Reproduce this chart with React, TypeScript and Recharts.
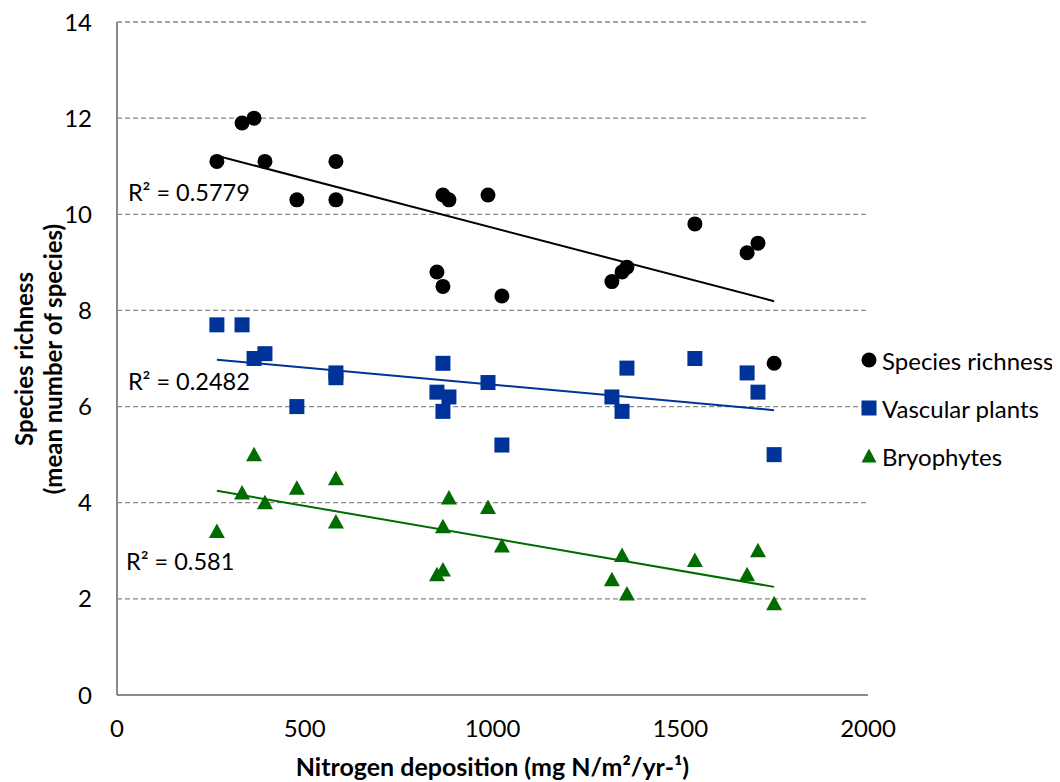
import React from 'react';
import {
  ScatterChart,
  Scatter,
  XAxis,
  YAxis,
  CartesianGrid,
  ReferenceLine,
  ReferenceDot,
  Label,
} from 'recharts';

// ---- data ----
const sites = [266, 333, 365, 394, 479, 583, 583, 852, 868, 868, 884, 988, 1025, 1318, 1345, 1358, 1539, 1678, 1707, 1750];
const speciesRichness = [11.1, 11.9, 12.0, 11.1, 10.3, 11.1, 10.3, 8.8, 10.4, 8.5, 10.3, 10.4, 8.3, 8.6, 8.8, 8.9, 9.8, 9.2, 9.4, 6.9];
const vascularPlants = [7.7, 7.7, 7.0, 7.1, 6.0, 6.6, 6.7, 6.3, 6.9, 5.9, 6.2, 6.5, 5.2, 6.2, 5.9, 6.8, 7.0, 6.7, 6.3, 5.0];
const bryophytes = [3.4, 4.2, 5.0, 4.0, 4.3, 4.5, 3.6, 2.5, 3.5, 2.6, 4.1, 3.9, 3.1, 2.4, 2.9, 2.1, 2.8, 2.5, 3.0, 1.9];

const seriesNames = ['Species richness', 'Vascular plants', 'Bryophytes'];
const r2Labels = ['R² = 0.5779', 'R² = 0.2482', 'R² = 0.581'];
const r2LabelX = [29, 29, 24];
const r2LabelY = [10.44, 6.51, 2.77];

const xTicks = [0, 500, 1000, 1500, 2000];
const yTicks = [0, 2, 4, 6, 8, 10, 12, 14];

const xTitle = 'Nitrogen deposition (mg N/m²/yr-¹)';
const yTitle1 = 'Species richness';
const yTitle2 = '(mean number of species)';

// ---- styles ----
const FONT = 'Lato, "Open Sans", sans-serif';
const BLACK = '#000000';
const BLUE = '#003399';
const GREEN = '#006c00';
const GRID = '#8a8a8a';

const toPoints = (vals: number[]) => sites.map((x, i) => ({ x, y: vals[i] }));

const fit = (vals: number[]) => {
  const n = sites.length;
  const mx = sites.reduce((a, b) => a + b, 0) / n;
  const my = vals.reduce((a, b) => a + b, 0) / n;
  let sxy = 0;
  let sxx = 0;
  for (let i = 0; i < n; i++) {
    sxy += (sites[i] - mx) * (vals[i] - my);
    sxx += (sites[i] - mx) * (sites[i] - mx);
  }
  const b = sxy / sxx;
  const a = my - b * mx;
  const x1 = Math.min(...sites);
  const x2 = Math.max(...sites);
  return [
    { x: x1, y: a + b * x1 },
    { x: x2, y: a + b * x2 },
  ];
};

const CircleShape = (p: any) => <circle cx={p.cx} cy={p.cy} r={7.5} fill={BLACK} />;
const SquareShape = (p: any) => <rect x={p.cx - 7.5} y={p.cy - 7.5} width={15} height={15} fill={BLUE} />;
const TriangleShape = (p: any) => (
  <path d={`M${p.cx},${p.cy - 8} L${p.cx + 8},${p.cy + 6.5} L${p.cx - 8},${p.cy + 6.5} Z`} fill={GREEN} />
);

const seriesData = [speciesRichness, vascularPlants, bryophytes];
const seriesColors = [BLACK, BLUE, GREEN];
const shapes = [CircleShape, SquareShape, TriangleShape];

const LegendIcon = ({ idx }: { idx: number }) => (
  <svg width={16} height={16} style={{ display: 'block' }}>
    {idx === 0 && <circle cx={8} cy={8} r={7.5} fill={BLACK} />}
    {idx === 1 && <rect x={0.5} y={0.5} width={15} height={15} fill={BLUE} />}
    {idx === 2 && <path d="M8,0.5 L15.5,14.5 L0.5,14.5 Z" fill={GREEN} />}
  </svg>
);

const legendCenters = [352, 400, 448];

export default function App() {
  return (
    <div style={{ position: 'relative', width: 1052, height: 774, fontFamily: FONT }}>
      <ScatterChart
        width={1052}
        height={774}
        margin={{ top: 14, right: 192, bottom: 47, left: 49 }}
      >
        <CartesianGrid vertical={false} stroke={GRID} strokeDasharray="5 3" strokeWidth={1.3} />
        <XAxis
          type="number"
          dataKey="x"
          domain={[0, 2000]}
          ticks={xTicks}
          interval={0}
          height={40}
          axisLine={{ stroke: GRID, strokeWidth: 2 }}
          tickLine={false}
          tickSize={0}
          tickMargin={25}
          tick={{ fill: '#000', fontSize: 24, fontFamily: FONT }}
          label={{
            content: () => (
              <text
                x={484.5}
                y={768}
                textAnchor="middle"
                fontFamily={FONT}
                fontSize={25}
                fontWeight="bold"
                fill="#000"
              >
                {xTitle}
              </text>
            ),
          }}
        />
        <YAxis
          type="number"
          dataKey="y"
          domain={[0, 14]}
          ticks={yTicks}
          interval={0}
          width={60}
          axisLine={{ stroke: GRID, strokeWidth: 2 }}
          tickLine={false}
          tickSize={0}
          tickMargin={25}
          tick={{ fill: '#000', fontSize: 24, fontFamily: FONT }}
          label={{
            content: () => (
              <g fontFamily={FONT} fontSize={24} fontWeight="bold" fill="#000">
                <text x={25} y={351} textAnchor="middle" transform="rotate(-90 25 351)">
                  {yTitle1}
                </text>
                <text x={54} y={351} textAnchor="middle" transform="rotate(-90 54 351)">
                  {yTitle2}
                </text>
              </g>
            ),
          }}
        />
        {seriesData.map((vals, i) => (
          <ReferenceLine
            key={`fit-${i}`}
            segment={fit(vals)}
            stroke={seriesColors[i]}
            strokeWidth={2}
            ifOverflow="visible"
          />
        ))}
        {seriesData.map((vals, i) => (
          <Scatter
            key={`s-${i}`}
            name={seriesNames[i]}
            data={toPoints(vals)}
            shape={shapes[i]}
            isAnimationActive={false}
          />
        ))}
        {r2Labels.map((t, i) => (
          <ReferenceDot
            key={`r2-${i}`}
            x={r2LabelX[i]}
            y={r2LabelY[i]}
            r={0}
            fill="none"
            stroke="none"
            ifOverflow="visible"
          >
            <Label value={t} position="right" offset={0} fill="#000" fontSize={23.5} fontFamily={FONT} />
          </ReferenceDot>
        ))}
      </ScatterChart>
      {seriesNames.map((name, i) => (
        <div
          key={`lg-${i}`}
          style={{
            position: 'absolute',
            left: 853,
            top: legendCenters[i] - 15,
            height: 30,
            display: 'flex',
            alignItems: 'center',
            whiteSpace: 'nowrap',
          }}
        >
          <LegendIcon idx={i} />
          <span style={{ marginLeft: 5, fontSize: 24, color: '#000', fontFamily: FONT }}>{name}</span>
        </div>
      ))}
    </div>
  );
}
